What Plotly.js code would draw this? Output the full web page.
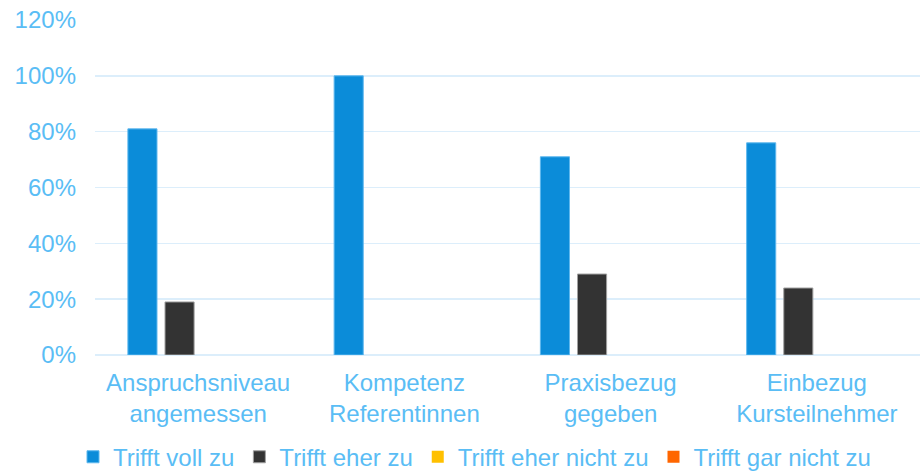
<!DOCTYPE html>
<html>
<head>
<meta charset="utf-8">
<script src="https://cdn.plot.ly/plotly-3.0.1.min.js"></script>
<style>html,body{margin:0;padding:0;background:#fff;}#chart{width:920px;height:473px;}</style>
</head>
<body>
<div id="chart"></div>
<script>
const categories = ["Anspruchsniveau<br>angemessen", "Kompetenz<br>Referentinnen", "Praxisbezug<br>gegeben", "Einbezug<br>Kursteilnehmer"];
const seriesNames = ["Trifft voll zu", "Trifft eher zu", "Trifft eher nicht zu", "Trifft gar nicht zu"];
const trifftVoll = [0.81, 1.00, 0.71, 0.76];
const trifftEher = [0.19, 0.00, 0.29, 0.24];
const trifftEherNicht = [0, 0, 0, 0];
const trifftGarNicht = [0, 0, 0, 0];
const colors = ["#0B8CD9", "#333333", "#FFC000", "#FF6600"];
const lineColors = ["#5FB8EE", "#A0A0A0", "#FFC000", "#FF6600"];

const values = [trifftVoll, trifftEher, trifftEherNicht, trifftGarNicht];
const textColor = "#5ABDF5";
const font = {family: "Liberation Sans, Arial, sans-serif", size: 24, color: textColor};

const traces = values.map((v, i) => ({
  type: "bar",
  name: seriesNames[i],
  x: categories,
  y: v,
  marker: {color: colors[i], line: {color: lineColors[i], width: v.map(d => d > 0 ? 1 : 0)}},
  hoverinfo: "none"
}));

const layout = {
  width: 920, height: 473,
  margin: {l: 95, r: 0, t: 20, b: 118, autoexpand: false},
  paper_bgcolor: "#ffffff",
  plot_bgcolor: "#ffffff",
  font: font,
  barmode: "group",
  bargap: 0.28,
  bargroupgap: 0.216,
  showlegend: true,
  legend: {
    orientation: "h",
    x: 0.46, xanchor: "center",
    y: -0.305, yanchor: "middle",
    font: font,
    itemwidth: 30,
    traceorder: "normal",
    bgcolor: "rgba(0,0,0,0)"
  },
  xaxis: {
    showgrid: false,
    zeroline: false,
    showline: false,
    ticks: "",
    ticklabelstandoff: 11,
    tickfont: font,
    automargin: false,
    fixedrange: true
  },
  yaxis: {
    range: [0, 1.2],
    dtick: 0.2,
    tick0: 0,
    tickformat: ".0%",
    showgrid: true,
    gridcolor: "#DCEEFB",
    gridwidth: 1.5,
    zeroline: true,
    zerolinecolor: "#DCEEFB",
    zerolinewidth: 1.5,
    showline: false,
    ticks: "",
    ticklabelstandoff: 18,
    tickfont: font,
    automargin: false,
    fixedrange: true
  }
};

Plotly.newPlot("chart", traces, layout, {displayModeBar: false, staticPlot: true});
</script>
</body>
</html>
